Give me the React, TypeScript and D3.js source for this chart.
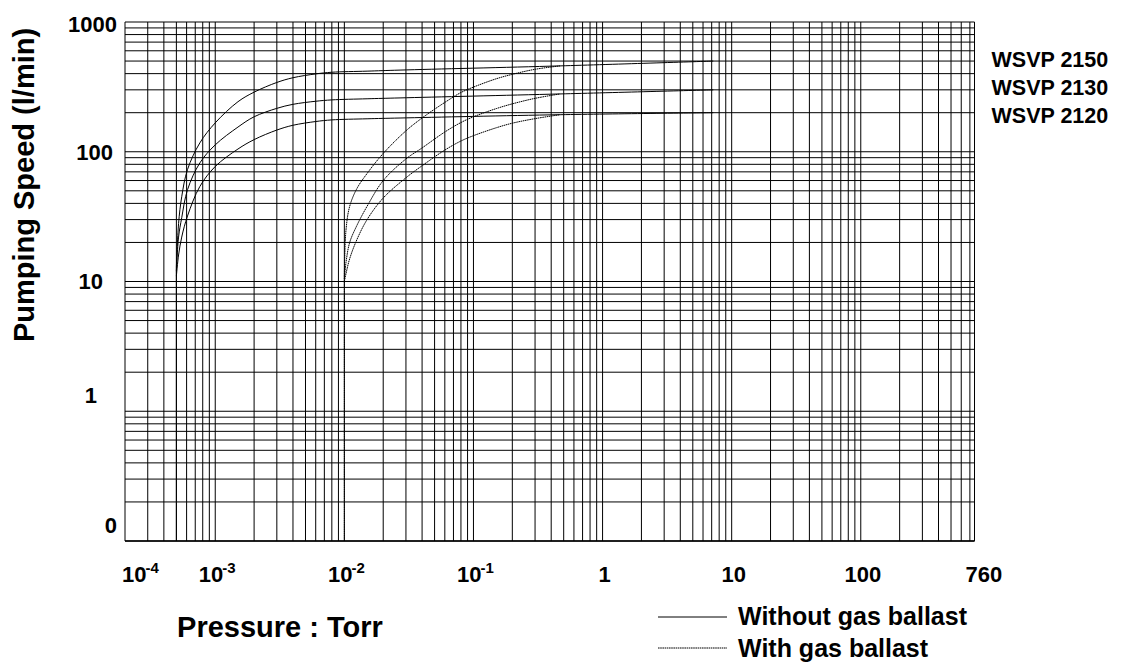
import React, { useEffect, useRef } from "react";
import * as d3 from "d3";

// pump models, top curve first
const models = ["WSVP 2150", "WSVP 2130", "WSVP 2120"];

// without gas ballast (solid), pressure in Torr, speed in l/min
const plainPressure = [5e-4, 5.2e-4, 5.5e-4, 6.1e-4, 7.6e-4, 1e-3, 1.5e-3, 2e-3, 3e-3, 4e-3, 6e-3, 8e-3, 0.015, 0.027, 0.47, 7.2];
const plain2150 = [13, 28, 45, 73, 117, 167, 243, 288, 342, 372, 398, 410, 418, 426, 459, 500];
const plain2130 = [12, 22, 31, 51, 82, 113, 155, 186, 216, 232, 245, 251, 256, 260, 279, 300];
const plain2120 = [11, 16, 22, 32, 54, 77, 105, 124, 147, 160, 171, 176, 179.5, 182, 193, 200];

// with gas ballast (dotted)
const ballastPressure = [0.01, 0.0103, 0.011, 0.0125, 0.015, 0.02, 0.03, 0.04, 0.06, 0.08, 0.1, 0.15, 0.2, 0.3, 0.47];
const ballast2150 = [11, 25, 38, 52, 68, 97, 145, 182, 240, 286, 315, 365, 395, 432, 459];
const ballast2130 = [10.5, 14, 20, 27, 38, 60, 88, 107, 142, 168, 186, 215, 234, 258, 279];
const ballast2120 = [10, 11.5, 15, 21, 30, 44, 63, 78, 103, 121, 133, 153, 166, 180, 193];

const xDomain = [2e-4, 760];
const yDomain = [0.1, 1000];
const xTickValues = [2e-4, 1e-3, 1e-2, 1e-1, 1, 10, 100, 760];
const xTickBase = ["10", "10", "10", "10", "1", "10", "100", "760"];
const xTickExp = ["-4", "-3", "-2", "-1", "", "", "", ""];
const yTickValues = [1000, 100, 10, 1, 0.1];
const yTickLabels = ["1000", "100", "10", "1", "0"];
const legendLabels = ["Without gas ballast", "With gas ballast"];

const FONT = "'Liberation Sans', Arial, Helvetica, sans-serif";
const DOTS = "1.6 0.6";

const App: React.FC = () => {
  const svgRef = useRef<SVGSVGElement>(null);
  const width = 1129;
  const height = 662;

  useEffect(() => {
    const x = d3.scaleLog().domain(xDomain).range([125, 974.5]);
    const y = d3.scaleLog().domain(yDomain).range([541, 22]);

    const svg = d3.select(svgRef.current);
    svg.selectAll("*").remove();

    // grid
    const grid = svg.append("g").attr("stroke", "#000").attr("stroke-width", 1);
    grid.selectAll("line.v")
      .data(x.ticks().concat([760]))
      .join("line")
      .attr("x1", (d) => x(d)).attr("x2", (d) => x(d))
      .attr("y1", y(yDomain[0])).attr("y2", y(yDomain[1]));
    grid.selectAll("line.h")
      .data(y.ticks())
      .join("line")
      .attr("x1", x(xDomain[0])).attr("x2", x(xDomain[1]))
      .attr("y1", (d) => y(d)).attr("y2", (d) => y(d));
    svg.append("line")
      .attr("x1", x(xDomain[0])).attr("x2", x(xDomain[1]))
      .attr("y1", y(yDomain[0])).attr("y2", y(yDomain[0]))
      .attr("stroke", "#000").attr("stroke-width", 1.5);

    // curves
    const line = d3.line<[number, number]>()
      .x((d) => x(d[0]))
      .y((d) => y(d[1]))
      .curve(d3.curveCatmullRom.alpha(0.5));
    const straight = d3.line<[number, number]>().x((d) => x(d[0])).y((d) => y(d[1]));

    const drawGroup = (pressure: number[], series: number[][], dash: string | null) => {
      const g = svg.append("g").attr("fill", "none").attr("stroke", "#000").attr("stroke-width", 1);
      if (dash) g.attr("stroke-dasharray", dash);
      const top = d3.max(series, (s) => s[0])!;
      g.append("path").attr("d", straight([[pressure[0], yDomain[0]], [pressure[0], top]]));
      series.forEach((s) => {
        g.append("path").attr("d", line(pressure.map((p, i) => [p, s[i]] as [number, number])));
      });
    };
    drawGroup(plainPressure, [plain2150, plain2130, plain2120], null);
    drawGroup(ballastPressure, [ballast2150, ballast2130, ballast2120], DOTS);

    // model labels
    const ends = [plain2150, plain2130, plain2120].map((s) => s[s.length - 1]);
    svg.append("g")
      .selectAll("text")
      .data(models)
      .join("text")
      .attr("x", x(xDomain[1]) + 17)
      .attr("y", (d, i) => y(ends[0]) + 6 + i * 28)
      .attr("font-family", FONT).attr("font-weight", "bold").attr("font-size", 21.5)
      .text((d) => d);

    // y tick labels
    const yNudge = [[0, 10], [-4, 8], [-14, 7], [-20, -8], [0, -8]];
    svg.append("g")
      .selectAll("text")
      .data(yTickValues)
      .join("text")
      .attr("x", (d, i) => x(xDomain[0]) - 8 + yNudge[i][0])
      .attr("y", (d, i) => y(d) + yNudge[i][1])
      .attr("text-anchor", "end")
      .attr("font-family", FONT).attr("font-weight", "bold").attr("font-size", 22)
      .text((d, i) => yTickLabels[i]);

    // x tick labels
    const xl = svg.append("g")
      .attr("font-family", FONT).attr("font-weight", "bold").attr("font-size", 22);
    xTickValues.forEach((v, i) => {
      const last = i === xTickValues.length - 1;
      const t = xl.append("text")
        .attr("y", y(yDomain[0]) + 41)
        .attr("x", i === 0 ? x(v) - 3 : last ? x(v) - 9 : x(v) + 2)
        .attr("text-anchor", i === 0 || last ? "start" : "middle");
      t.append("tspan").text(xTickBase[i]);
      if (xTickExp[i]) {
        t.append("tspan").attr("font-size", 15).attr("dx", -1).attr("dy", -9).text(xTickExp[i]);
      }
    });

    // axis titles
    svg.append("text")
      .attr("transform", "translate(34,185) rotate(-90)")
      .attr("text-anchor", "middle")
      .attr("font-family", FONT).attr("font-weight", "bold").attr("font-size", 29)
      .text("Pumping Speed (l/min)");
    svg.append("text")
      .attr("x", 280).attr("y", 637)
      .attr("text-anchor", "middle")
      .attr("font-family", FONT).attr("font-weight", "bold").attr("font-size", 29)
      .text("Pressure : Torr");

    // legend
    const legend = svg.append("g");
    legendLabels.forEach((label, i) => {
      legend.append("line")
        .attr("x1", 658).attr("x2", 727)
        .attr("y1", 617 + i * 31).attr("y2", 617 + i * 31)
        .attr("stroke", "#000")
        .attr("stroke-width", 1)
        .attr("stroke-dasharray", i === 0 ? null : DOTS);
      legend.append("text")
        .attr("x", 738).attr("y", 625 + i * 32)
        .attr("font-family", FONT).attr("font-weight", "bold").attr("font-size", 25)
        .text(label);
    });
  }, []);

  return (
    <svg
      ref={svgRef}
      width={width}
      height={height}
      viewBox={`0 0 ${width} ${height}`}
      style={{ position: "absolute", left: 0, top: 0, background: "#fff" }}
    ></svg>
  );
};

export default App;
